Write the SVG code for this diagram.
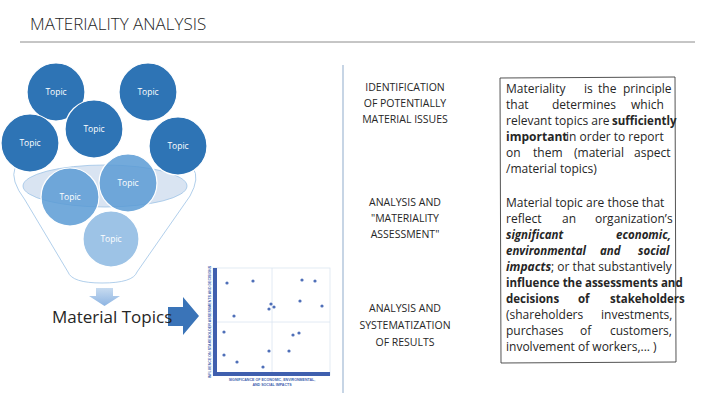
<svg xmlns="http://www.w3.org/2000/svg" width="720" height="405" viewBox="0 0 720 405">
<defs>
<style>
.t{font-family:"Open Sans","Liberation Sans",sans-serif;fill:#262626}
.c{stroke:#fff;stroke-width:1.2}
.ct{font-family:"Open Sans","Liberation Sans",sans-serif;font-size:8.5px;fill:#fff;text-anchor:middle}
.mid{font-family:"Open Sans","Liberation Sans",sans-serif;font-size:10.5px;fill:#262626;text-anchor:middle}
.b{font-size:12px}
.dot{fill:#4f6fb8}
</style>
<linearGradient id="ga" x1="0" y1="0" x2="0" y2="1"><stop offset="0" stop-color="#c7dbf0"/><stop offset="1" stop-color="#8db4e2"/></linearGradient>
</defs>
<rect width="720" height="405" fill="#fff"/>
<text class="t" x="30" y="30" font-size="17" font-weight="300">MATERIALITY ANALYSIS</text>
<line x1="20" y1="42" x2="695" y2="42" stroke="#8c8c8c" stroke-width="1"/>
<line x1="343" y1="65" x2="343" y2="393" stroke="#b4c7dc" stroke-width="1.5"/>

<g id="funnel">
<path d="M15,168 Q10,180 25,200 L68,272 Q72,283 102,283 Q133,283 137,272 L190,196 Q200,178 193,168" fill="none" stroke="#9dc3e6" stroke-width="0.8"/>
<ellipse cx="105" cy="186" rx="82" ry="21" fill="#c9d9ec" fill-opacity="0.7" stroke="#9dc3e6" stroke-width="0.8"/>
</g>
<g id="topic1"><circle class="c" cx="56" cy="92" r="29" fill="#2e74b5"/><text class="ct" x="56" y="95">Topic</text></g>
<g id="topic2"><circle class="c" cx="148" cy="92" r="29" fill="#2e74b5"/><text class="ct" x="148" y="95">Topic</text></g>
<g id="topic3"><circle class="c" cx="30" cy="143" r="29" fill="#2e74b5"/><text class="ct" x="30" y="146">Topic</text></g>
<g id="topic4"><circle class="c" cx="94" cy="129" r="29" fill="#2e74b5"/><text class="ct" x="94" y="132">Topic</text></g>
<g id="topic5"><circle class="c" cx="178" cy="146" r="29" fill="#2e74b5"/><text class="ct" x="178" y="149">Topic</text></g>
<g id="topic7"><circle class="c" cx="70" cy="197" r="29" fill="#5b9bd5" fill-opacity="0.85"/><text class="ct" x="70" y="200" font-size="10">Topic</text></g>
<g id="topic6"><circle class="c" cx="128" cy="183" r="29" fill="#5b9bd5" fill-opacity="0.85"/><text class="ct" x="128" y="186" font-size="10">Topic</text></g>
<g id="topic8"><circle class="c" cx="111" cy="239" r="28" fill="#9dc3e6"/><text class="ct" x="111" y="242" font-size="10">Topic</text></g>

<g id="connectors">
<path d="M96,288 H113 V296 H120 L104.5,306 L89,296 H96 Z" fill="url(#ga)"/>
<path d="M168,307 H183 V297 L199,316 L183,335 V326 H168 Z" fill="#3a74b8"/>
</g>
<g id="material"><text class="t" x="52" y="323" font-size="17">Material Topics</text></g>

<g id="chart">
<rect x="213" y="268" width="117" height="107" fill="none" stroke="#dbe5f1" stroke-width="0.8"/>
<line x1="272" y1="268" x2="272" y2="372" stroke="#dbe5f1" stroke-width="0.8"/>
<line x1="217" y1="322" x2="330" y2="322" stroke="#dbe5f1" stroke-width="0.8"/>
<rect x="213" y="268" width="4" height="108" fill="#3f5fae"/>
<rect x="213" y="372" width="117" height="4" fill="#3f5fae"/>
<g font-family="Liberation Sans,sans-serif" font-size="3.6" fill="#3f5fae" font-weight="bold" text-anchor="middle">
<text x="272" y="381">SIGNIFICANCE OF ECONOMIC, ENVIRONMENTAL,</text>
<text x="272" y="386">AND SOCIAL IMPACTS</text>
<text transform="translate(211,322) rotate(-90)">INFLUENCE ON STAKEHOLDER ASSESSMENTS AND DECISIONS</text>
</g>
<g class="dot">
<circle cx="227" cy="283" r="1.6"/><circle cx="253" cy="281" r="1.6"/><circle cx="302" cy="280" r="1.6"/><circle cx="315" cy="281" r="1.6"/><circle cx="300" cy="301" r="1.6"/><circle cx="322" cy="306" r="1.6"/><circle cx="271" cy="304" r="1.6"/><circle cx="274" cy="307" r="1.6"/><circle cx="269" cy="309" r="1.6"/><circle cx="234" cy="316" r="1.6"/><circle cx="224" cy="332" r="1.6"/><circle cx="293" cy="335" r="1.6"/><circle cx="299" cy="333" r="1.6"/><circle cx="224" cy="355" r="1.6"/><circle cx="269" cy="351" r="1.6"/><circle cx="289" cy="351" r="1.6"/><circle cx="237" cy="362" r="1.6"/><circle cx="263" cy="367" r="1.6"/>
</g>
</g>

<g id="steps">
<text class="mid" x="405" y="91">IDENTIFICATION</text>
<text class="mid" x="405" y="107">OF POTENTIALLY</text>
<text class="mid" x="405" y="123">MATERIAL ISSUES</text>
<text class="mid" x="405" y="206">ANALYSIS AND</text>
<text class="mid" x="405" y="222">"MATERIALITY</text>
<text class="mid" x="405" y="238">ASSESSMENT"</text>
<text class="mid" x="405" y="312">ANALYSIS AND</text>
<text class="mid" x="405" y="329">SYSTEMATIZATION</text>
<text class="mid" x="405" y="346">OF RESULTS</text>
</g>

<g id="definition">
<path d="M500,78 L675,77 L676,362 L501,363 Z" fill="none" stroke="#404040" stroke-width="0.9"/>
<g class="t b">
<text y="93"><tspan x="506">Materiality</tspan><tspan x="584">is</tspan><tspan x="598">the</tspan><tspan x="623">principle</tspan></text>
<text y="109"><tspan x="506">that</tspan><tspan x="552">determines</tspan><tspan x="631">which</tspan></text>
<text y="125"><tspan x="506">relevant topics are </tspan><tspan x="612" font-weight="bold" font-size="11.5">sufficiently</tspan></text>
<text y="141"><tspan x="506" font-weight="bold">important</tspan><tspan x="566">in order to report</tspan></text>
<text y="157"><tspan x="506">on</tspan><tspan x="533">them</tspan><tspan x="574">(material</tspan><tspan x="634">aspect</tspan></text>
<text y="173" x="506">/material topics)</text>
<text y="207" x="506">Material topic are those that</text>
<text y="223"><tspan x="506">reflect</tspan><tspan x="562">an</tspan><tspan x="595">organization’s</tspan></text>
<text y="239" font-weight="bold" font-style="italic" font-size="11.5"><tspan x="506">significant</tspan><tspan x="616">economic,</tspan></text>
<text y="255" font-weight="bold" font-style="italic" font-size="11.5"><tspan x="506">environmental</tspan><tspan x="600">and</tspan><tspan x="638">social</tspan></text>
<text y="271"><tspan x="506" font-weight="bold" font-style="italic">impacts</tspan><tspan>; or that substantively</tspan></text>
<text y="287" x="506" font-weight="bold" font-size="11.5">influence the assessments and</text>
<text y="303" font-weight="bold" font-size="11.5"><tspan x="506">decisions</tspan><tspan x="578">of</tspan><tspan x="610">stakeholders</tspan></text>
<text y="319"><tspan x="506">(shareholders</tspan><tspan x="601">investments,</tspan></text>
<text y="335"><tspan x="506">purchases</tspan><tspan x="580">of</tspan><tspan x="610">customers,</tspan></text>
<text y="351" x="506">involvement of workers,... )</text>
</g>
</g>
</svg>
